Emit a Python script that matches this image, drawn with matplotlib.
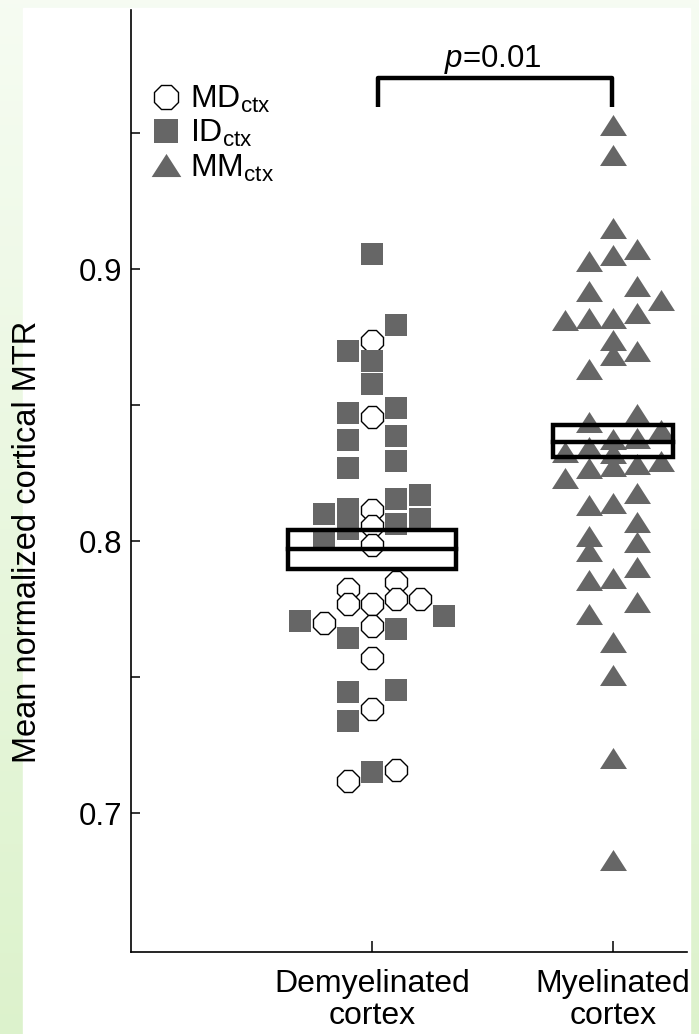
import numpy as np
import matplotlib.pyplot as plt
from matplotlib.patches import Rectangle
from matplotlib.path import Path

plt.rcParams['font.family'] = ['Liberation Sans', 'DejaVu Sans']
plt.rcParams['mathtext.fontset'] = 'custom'
plt.rcParams['mathtext.rm'] = 'Liberation Sans'
plt.rcParams['mathtext.it'] = 'Liberation Sans:italic'

categories = ['Demyelinated\ncortex', 'Myelinated\ncortex']

# MD_ctx (open circles) - demyelinated cortex: swarm column offset, value
md_off = [0, 0, 0, 0, 0, 0.1, -0.1, -0.1, 0, 0.1, 0.2, -0.2, 0, 0, 0, -0.1, 0.1]
md_val = [0.8735, 0.8458, 0.8116, 0.8055, 0.7985, 0.7849, 0.7825, 0.777, 0.777,
          0.7789, 0.7789, 0.770, 0.7688, 0.7572, 0.7384, 0.7119, 0.7158]

# ID_ctx (grey squares) - demyelinated cortex
id_off = [0, 0.1, -0.1, 0, 0, -0.1, 0.1, -0.1, 0.1, -0.1, 0.1, -0.2, -0.1, -0.1,
          0.1, 0.2, 0.2, 0.1, -0.2, -0.3, 0.3, 0.1, -0.1, -0.1, 0.1, -0.1, 0]
id_val = [0.9055, 0.8794, 0.8699, 0.8662, 0.8577, 0.847, 0.8489, 0.8371, 0.8386,
          0.827, 0.8294, 0.8101, 0.8118, 0.8044, 0.8156, 0.8169, 0.8081, 0.8064,
          0.8004, 0.7706, 0.7724, 0.7676, 0.7645, 0.7445, 0.7452, 0.7338, 0.7151]

# MM_ctx (grey triangles) - myelinated cortex
mm_off = [0, 0, 0, 0.1, -0.1, 0, -0.1, 0.1, 0.2, -0.2, -0.1, 0, 0.1, 0, 0, 0.1,
          -0.1, -0.1, 0.1, 0.2, 0, 0.1, -0.2, -0.1, 0, -0.2, -0.1, 0, 0.1, 0.2,
          -0.1, 0, 0.1, 0.1, 0.1, -0.1, -0.1, 0.1, -0.1, 0, 0.1, -0.1, 0, 0, 0, 0]
mm_val = [0.9531, 0.9419, 0.9151, 0.9075, 0.9031, 0.9051, 0.8919, 0.8938, 0.8886,
          0.8814, 0.882, 0.882, 0.8838, 0.8739, 0.8684, 0.870, 0.8632, 0.8438,
          0.8469, 0.8408, 0.8375, 0.838, 0.833, 0.8346, 0.8325, 0.8232, 0.8268,
          0.8276, 0.8285, 0.8294, 0.8132, 0.814, 0.8176, 0.807, 0.7996, 0.8018,
          0.7963, 0.7906, 0.7857, 0.7864, 0.7776, 0.7732, 0.763, 0.7507, 0.7202,
          0.6827]

# group mean and confidence interval
means = [0.797, 0.8365]
ci_low = [0.7897, 0.8309]
ci_high = [0.8040, 0.8426]
box_hw = [0.35, 0.25]
p_value = '0.01'

grey = '#666666'
tri = Path([(-1, -0.78), (1, -0.78), (0, 0.78), (-1, -0.78)],
           [Path.MOVETO, Path.LINETO, Path.LINETO, Path.CLOSEPOLY])

fig = plt.figure(figsize=(6.99, 10.34), dpi=100)

# green page background with white panel
bg = fig.add_axes([0, 0, 1, 1], zorder=-10)
grad = np.linspace(0, 1, 256)[:, None, None]
top = np.array([0.965, 0.988, 0.95])
bot = np.array([0.865, 0.95, 0.80])
bg.imshow(top * (1 - grad) + bot * grad, aspect='auto', extent=[0, 1, 0, 1])
bg.add_patch(Rectangle((23 / 699, 0), 667 / 699, 1026 / 1034, color='white'))
bg.set_xlim(0, 1)
bg.set_ylim(0, 1)
bg.axis('off')

ax = fig.add_axes([0.1874, 0.0793, 0.7956, 0.911])
ax.patch.set_alpha(0)

xpos = np.array([1, 2])
ax.plot(xpos[0] + np.array(md_off), md_val, ls='none', marker='8', ms=16.4,
        mfc='white', mec='black', mew=1.0, zorder=3, label=r'MD$_{\mathrm{ctx}}$')
ax.plot(xpos[0] + np.array(id_off), id_val, ls='none', marker='s', ms=15.8,
        mfc=grey, mec=grey, mew=0, zorder=4, label=r'ID$_{\mathrm{ctx}}$')
ax.plot(xpos[1] + np.array(mm_off), mm_val, ls='none', marker=tri, ms=19.4,
        mfc=grey, mec=grey, mew=0, zorder=4, label=r'MM$_{\mathrm{ctx}}$')

for x, m, lo, hi, hw in zip(xpos, means, ci_low, ci_high, box_hw):
    ax.add_patch(Rectangle((x - hw, lo), 2 * hw, hi - lo, fill=False,
                           lw=3.2, ec='black', zorder=6))
    ax.plot([x - hw, x + hw], [m, m], color='black', lw=3.2, zorder=6)

# significance bracket
ax.plot([xpos[0] + 0.025, xpos[0] + 0.025, xpos[1] - 0.005, xpos[1] - 0.005],
        [0.9596, 0.9703, 0.9703, 0.9596], color='black', lw=3.2,
        solid_joinstyle='round', solid_capstyle='butt', zorder=6)
ax.text(xpos.mean(), 0.9745, r'$p$=' + p_value, ha='center', va='baseline',
        fontsize=22.5)

ax.set_xlim(0, 2.307)
ax.set_ylim(0.649, 0.9953)
ax.set_xticks(xpos)
ax.set_xticklabels(categories, fontsize=23, linespacing=1.1)
ax.set_yticks(np.arange(0.7, 0.951, 0.05))
ax.set_yticklabels(['0.7', '', '0.8', '', '0.9', ''], fontsize=22.5)
ax.tick_params(axis='x', direction='in', length=8, width=1.1, pad=12)
ax.tick_params(axis='y', direction='in', length=6.5, width=1.1, pad=6.5)
for s in ['top', 'right']:
    ax.spines[s].set_visible(False)
for s in ['left', 'bottom']:
    ax.spines[s].set_linewidth(1.2)

ax.set_ylabel('Mean normalized cortical MTR', fontsize=23.5)
ax.yaxis.set_label_coords(-0.158, 0.435)

ax.legend(loc='upper left', bbox_to_anchor=(0.005, 0.935), frameon=False,
          fontsize=23, handletextpad=0.15, labelspacing=0.1, borderaxespad=0,
          handlelength=1.2, markerscale=1.1)

fig.savefig('out.png', dpi=100)
